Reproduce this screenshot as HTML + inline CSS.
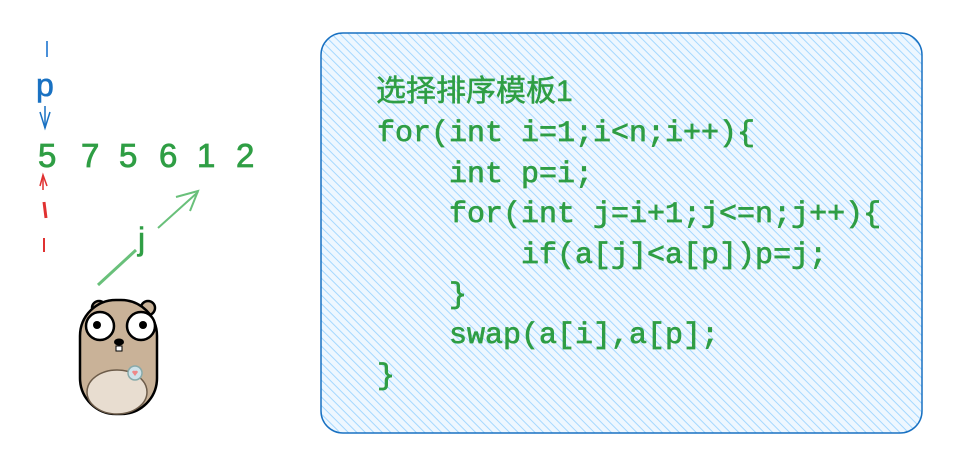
<!DOCTYPE html>
<html><head><meta charset="utf-8"><style>
html,body{margin:0;padding:0;background:#fff;width:960px;height:464px;overflow:hidden}
svg{display:block}
.c{font-family:"Liberation Mono","Noto Sans CJK SC",monospace;font-size:30px;fill:#2f9e44;white-space:pre;stroke:#2f9e44;stroke-width:0.7}
.h{font-family:"Liberation Sans","Noto Sans CJK SC",sans-serif;font-size:30px;fill:#2f9e44;stroke:#2f9e44;stroke-width:0.5}
.n{font-family:"Liberation Sans",sans-serif;font-size:33px;fill:#2f9e44;stroke:#2f9e44;stroke-width:0.8}
</style></head><body>
<svg width="960" height="464" viewBox="0 0 960 464" xmlns="http://www.w3.org/2000/svg">
<defs>
<pattern id="hat" patternUnits="userSpaceOnUse" width="6" height="6" patternTransform="rotate(-45)">
<rect width="6" height="6" fill="#eef7ff"/>
<line x1="0" y1="0" x2="0" y2="6" stroke="#a5d8ff" stroke-width="2"/>
</pattern>
</defs>
<rect x="321" y="33" width="601" height="400" rx="22" fill="url(#hat)" stroke="#1971c2" stroke-width="1.5"/>
<text class="h" x="376" y="101">选择排序模板1</text>
<text class="c" x="377" y="141">for(int i=1;i&lt;n;i++){</text>
<text class="c" x="377" y="182">    int p=i;</text>
<text class="c" x="377" y="222">    for(int j=i+1;j&lt;=n;j++){</text>
<text class="c" x="377" y="263">        if(a[j]&lt;a[p])p=j;</text>
<text class="c" x="377" y="303">    }</text>
<text class="c" x="377" y="343">    swap(a[i],a[p];</text>
<text class="c" x="377" y="384">}</text>

<line x1="47" y1="41" x2="47" y2="57" stroke="#4a90d9" stroke-width="2"/>
<text x="36" y="96" font-family="Liberation Sans,sans-serif" font-size="32" fill="#1971c2" stroke="#1971c2" stroke-width="0.6">p</text>
<path d="M40 112 L45 128 L50 112" fill="none" stroke="#1971c2" stroke-width="1.5"/>
<line x1="45" y1="106" x2="45" y2="128" stroke="#1971c2" stroke-width="1.5"/>
<text class="n" x="38" y="167">5</text>
<text class="n" x="81" y="167">7</text>
<text class="n" x="119" y="167">5</text>
<text class="n" x="159" y="167">6</text>
<text class="n" x="197" y="167">1</text>
<text class="n" x="236" y="167">2</text>
<path d="M40 186 L43 175 L47 186" fill="none" stroke="#e03131" stroke-width="1.5"/>
<line x1="43" y1="176" x2="43" y2="190" stroke="#e03131" stroke-width="1.5"/>
<line x1="44" y1="202" x2="46" y2="218" stroke="#e03131" stroke-width="3"/>
<line x1="44" y1="238" x2="44" y2="252" stroke="#e03131" stroke-width="2"/>
<line x1="98" y1="285" x2="136" y2="250" stroke="#69c07a" stroke-width="3"/>
<line x1="158" y1="228" x2="198" y2="192" stroke="#69c07a" stroke-width="2"/>
<path d="M176 197 L198 191 L190 211" fill="none" stroke="#69c07a" stroke-width="2"/>
<text x="138" y="250" font-family="Liberation Sans,sans-serif" font-size="32" fill="#2f9e44" stroke="#2f9e44" stroke-width="0.6">j</text>
<g stroke="#000" stroke-width="2.5">
<circle cx="99" cy="308" r="7" fill="#c9b298"/>
<circle cx="148" cy="308" r="7" fill="#c9b298"/>
<rect x="80" y="300" width="77" height="114" rx="36" fill="#c9b298"/>
<ellipse cx="117" cy="392" rx="30" ry="22" fill="#e8ddd0" stroke="#6d5c4a" stroke-width="1.5"/>
<circle cx="100" cy="326" r="14" fill="#fff"/>
<circle cx="141" cy="326" r="14" fill="#fff"/>
<circle cx="135" cy="373" r="7" fill="#cfe3ea" stroke="#8aa" stroke-width="1.5"/>
</g>
<circle cx="97" cy="325" r="4" fill="#000"/>
<circle cx="143" cy="325" r="4" fill="#000"/>
<ellipse cx="119" cy="342" rx="5" ry="3.5" fill="#000"/>
<rect x="116" y="346" width="6" height="5" fill="#fff" stroke="#000"/>
<path d="M132 372 l3 4 l3 -4 a2 2 0 0 0 -3 -1 a2 2 0 0 0 -3 1z" fill="#e88"/>
</svg>
</body></html>
